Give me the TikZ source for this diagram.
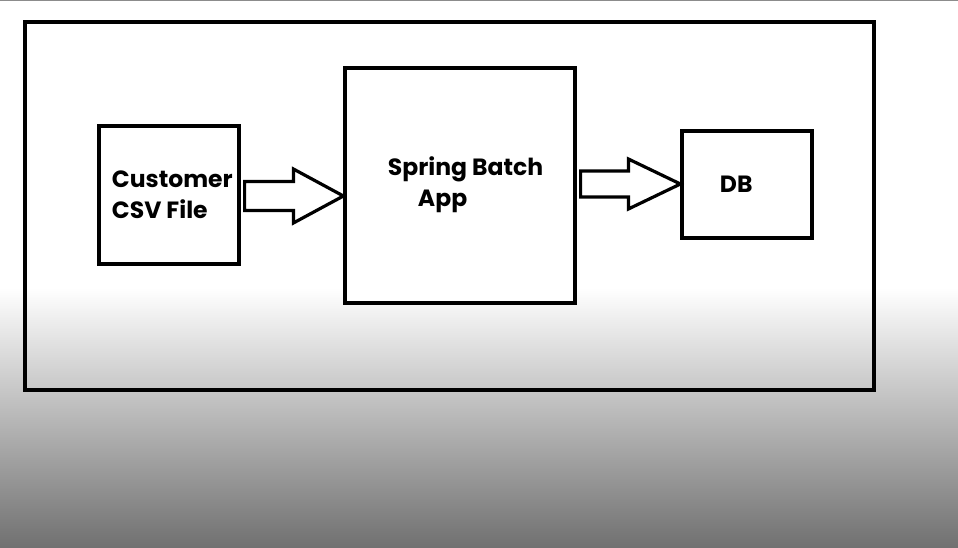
\documentclass[tikz,border=0pt]{standalone}
\usepackage{fontspec}
\setmainfont{Poppins}
\usetikzlibrary{calc}

\definecolor{shadegray}{RGB}{112,112,112}
\definecolor{rulegray}{RGB}{140,140,140}

\tikzset{every picture/.style={line width=0.45pt}}
\tikzset{
  box/.style={draw, fill=white, line width=3.2pt, inner sep=0pt},
  frame/.style={draw, line width=3.5pt},
  boxtext/.style={anchor=west, inner sep=0.75pt, align=left, font=\bfseries\fontsize{23.5}{31}\selectfont},
  fatarrow/.style={draw, fill=white, line width=3.2pt, line join=miter}
}

% block arrow: from, to, tip shift, shaft half, head half, head length
\newcommand{\fatarrow}[6]{%
  \path ($(#2.west)+(0,#3)$) coordinate (tip);
  \draw[fatarrow] ($(#1.east |- tip)+(4,-#4)$) -- ($(tip)+(-#6,-#4)$) -- ($(tip)+(-#6,-#5)$) -- (tip)
    -- ($(tip)+(-#6,#5)$) -- ($(tip)+(-#6,#4)$) -- ($(#1.east |- tip)+(4,#4)$) -- cycle;
}

\begin{document}
\begin{tikzpicture}[x=1pt,y=1pt,yscale=-1,xscale=1]
\useasboundingbox (0,0) rectangle (958,548);

%Background
\fill[white] (0,0) rectangle (958,548);
\shade[top color=white, bottom color=shadegray] (0,288) rectangle (958,548);
\draw[rulegray, line width=1.5pt] (0,0.75) -- (958,0.75);

%Outer frame
\draw[frame] (25,22) rectangle (874,390);

%Boxes
\node[box, minimum width=140, minimum height=138] (csv) at (169,195) {};
\node[box, minimum width=230, minimum height=235] (app) at (460,185.5) {};
\node[box, minimum width=130, minimum height=107] (db) at (747,184.5) {};

%Block arrows
\fatarrow{csv}{app}{10.5}{14.5}{27}{50}
\fatarrow{app}{db}{-0.5}{13}{25}{52}

% Text Node
\node[boxtext] (csvlabel) at (111,194.5) {Customer\\CSV File};
% Text Node
\node[boxtext] (applabel) at (387,184.5) {Spring Batch\\\hspace*{30pt}App};
% Text Node
\node[boxtext] (dblabel) at (719,184) {DB};

\end{tikzpicture}
\end{document}
